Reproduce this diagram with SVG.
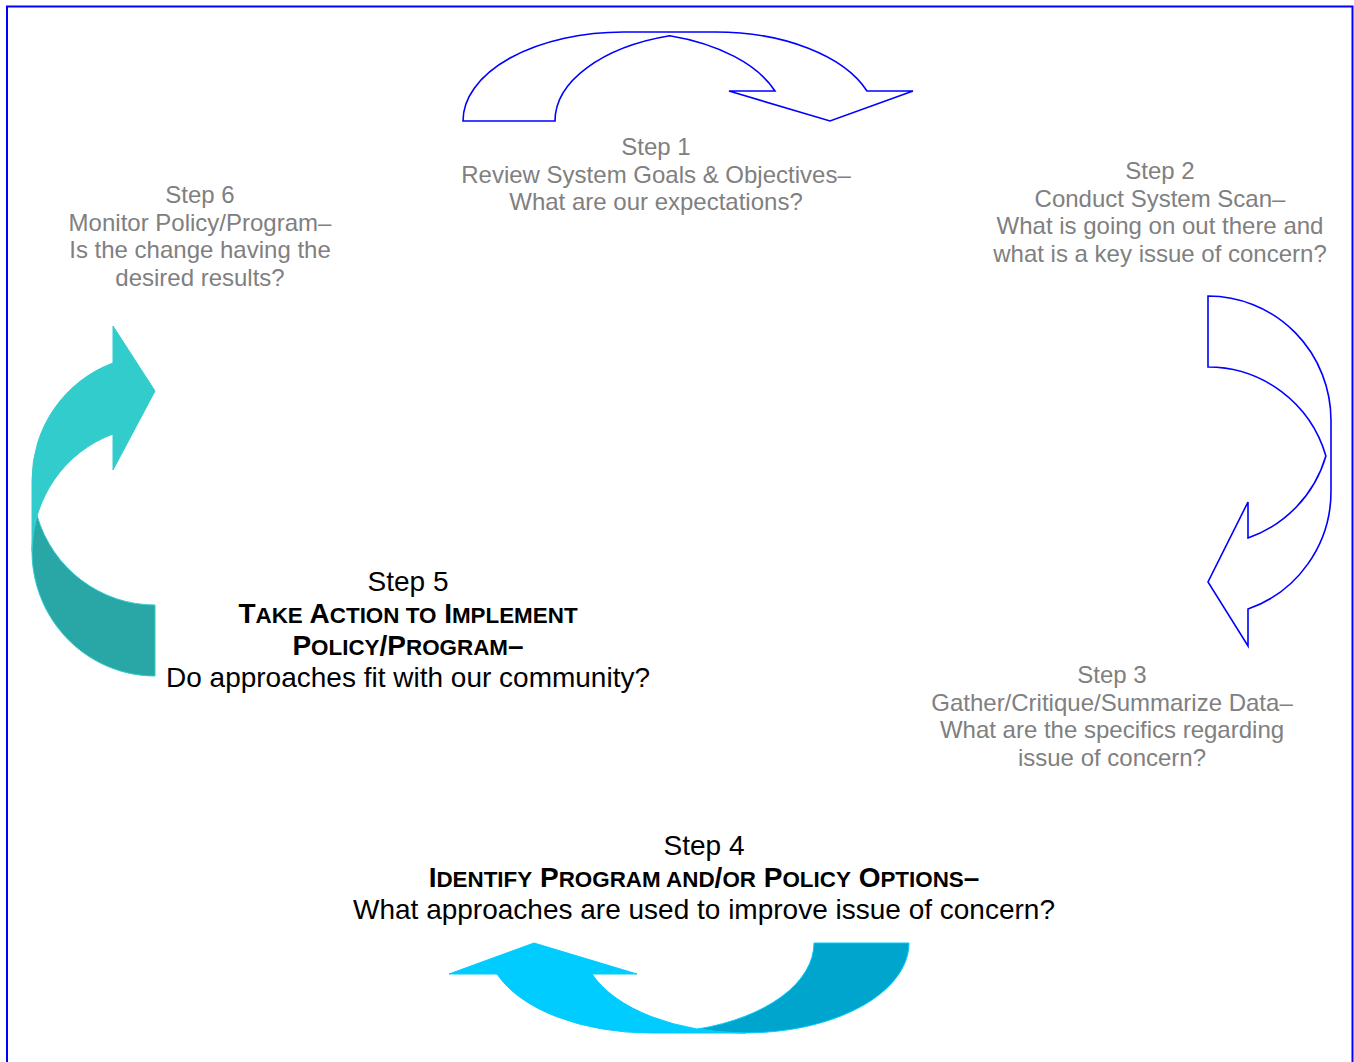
<svg xmlns="http://www.w3.org/2000/svg" width="1354" height="1062" viewBox="0 0 1354 1062">
<style>
  .t { font-family: "Liberation Sans", Arial, sans-serif; text-anchor: middle; }
  .gray { font-size: 24px; fill: #808080; }
  .blk { font-size: 28px; fill: #000000; }
  .b { font-weight: bold; }
  .sc { font-size: 22.4px; }
  .outline { fill: none; stroke: #0000FF; stroke-width: 1.6; stroke-linejoin: miter; }
  .cyanL { fill: #00CCFF; stroke: #00CCFF; stroke-width: 1; }
  .cyanD { fill: #00A5CE; stroke: #00CCFF; stroke-width: 1; }
  .tealL { fill: #33CCCC; stroke: #33CCCC; stroke-width: 1; }
  .tealD { fill: #29A6A6; stroke: #33CCCC; stroke-width: 1; }
</style>
<rect x="0" y="0" width="1354" height="1062" fill="#FFFFFF"/>
<rect id="frame" x="7" y="6.5" width="1345.5" height="1080" fill="none" stroke="#0000FF" stroke-width="2"/>

<g id="connectors">
  <!-- Step 1 -> Step 2 : curved down arrow (outline) -->
  <path id="arrow-1-2" class="outline" d="M463,121 A160.7,89 0 0 1 623.7,32 L715.7,32 A160.7,89 0 0 1 867,91 L913,91 L830,121 L729,91 L775,91 A160.7,89 0 0 0 669.7,35.7 A160.7,89 0 0 0 555,121 Z"/>
  <!-- Step 2 -> Step 3 : curved left arrow (outline) -->
  <path id="arrow-2-3" class="outline" d="M1208,296 A123,124.4 0 0 1 1331,420.4 L1331,491.4 A123,124.4 0 0 1 1248,609 L1248,646 L1208,582 L1248,502 L1248,538 A123,124.4 0 0 0 1325.9,455.9 A123,124.4 0 0 0 1208,367 Z"/>
  <!-- Step 4 -> Step 5 : curved up arrow (filled) -->
  <g id="arrow-4-5">
    <path class="cyanD" d="M909,943 A163.5,90 0 0 1 698,1029 A163.5,90 0 0 0 814,943 Z"/>
    <path class="cyanL" d="M534,943 L637,974 L592,974 A163.5,90 0 0 0 745.5,1033 L650.5,1033 A163.5,90 0 0 1 497,974 L449,974 Z"/>
  </g>
  <!-- Step 5 -> Step 6 : curved right arrow (filled) -->
  <g id="arrow-5-6">
    <path class="tealD" d="M155,676 A123,124.7 0 0 1 37.1,515.8 A123,124.7 0 0 0 155,605 Z"/>
    <path class="tealL" d="M113,363 L113,326 L155,391 L113,470 L113,434 A123,124.7 0 0 0 32,551.3 L32,480.3 A123,124.7 0 0 1 113,363 Z"/>
  </g>
</g>

<g id="step1">
  <text class="t gray" x="656" y="155">Step 1</text>
  <text class="t gray" x="656" y="183">Review System Goals &amp; Objectives–</text>
  <text class="t gray" x="656" y="210">What are our expectations?</text>
</g>

<g id="step2">
  <text class="t gray" x="1160" y="179">Step 2</text>
  <text class="t gray" x="1160" y="207">Conduct System Scan–</text>
  <text class="t gray" x="1160" y="234">What is going on out there and</text>
  <text class="t gray" x="1160" y="262">what is a key issue of concern?</text>
</g>

<g id="step3">
  <text class="t gray" x="1112" y="683">Step 3</text>
  <text class="t gray" x="1112" y="711">Gather/Critique/Summarize Data–</text>
  <text class="t gray" x="1112" y="738">What are the specifics regarding</text>
  <text class="t gray" x="1112" y="766">issue of concern?</text>
</g>

<g id="step4">
  <text class="t blk" x="704" y="855">Step 4</text>
  <text class="t blk b" x="704" y="887">I<tspan class="sc">DENTIFY</tspan> P<tspan class="sc">ROGRAM AND</tspan>/<tspan class="sc">OR</tspan> P<tspan class="sc">OLICY</tspan> O<tspan class="sc">PTIONS</tspan>–</text>
  <text class="t blk" x="704" y="919">What approaches are used to improve issue of concern?</text>
</g>

<g id="step5">
  <text class="t blk" x="408" y="591">Step 5</text>
  <text class="t blk b" x="408" y="623">T<tspan class="sc">AKE</tspan> A<tspan class="sc">CTION TO</tspan> I<tspan class="sc">MPLEMENT</tspan></text>
  <text class="t blk b" x="408" y="655">P<tspan class="sc">OLICY</tspan>/P<tspan class="sc">ROGRAM</tspan>–</text>
  <text class="t blk" x="408" y="687">Do approaches fit with our community?</text>
</g>

<g id="step6">
  <text class="t gray" x="200" y="203">Step 6</text>
  <text class="t gray" x="200" y="231">Monitor Policy/Program–</text>
  <text class="t gray" x="200" y="258">Is the change having the</text>
  <text class="t gray" x="200" y="286">desired results?</text>
</g>
</svg>
